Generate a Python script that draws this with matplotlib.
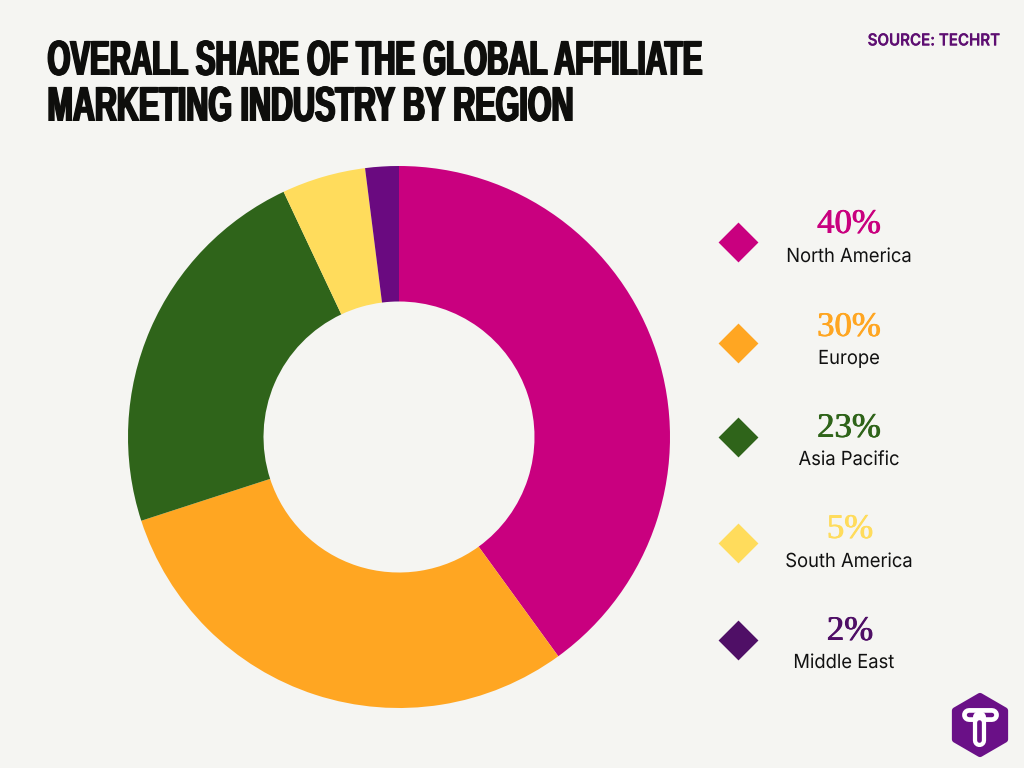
import matplotlib
matplotlib.use("Agg")
import matplotlib.pyplot as plt
from matplotlib.patches import Polygon
from matplotlib.patheffects import AbstractPathEffect
from matplotlib.transforms import Affine2D

regions = ["North America", "Europe", "Asia Pacific", "South America", "Middle East"]
shares = [40, 30, 23, 5, 2]
colors = ["#C9007F", "#FFA622", "#2F641A", "#FFDC5C", "#6A0A80"]
legend_colors = ["#C9007F", "#FFA622", "#2F641A", "#FFDC5C", "#4F0F66"]
title_lines = ["OVERALL SHARE OF THE GLOBAL AFFILIATE", "MARKETING INDUSTRY BY REGION"]

# layout, in picture pixels
title_base = [75, 121]
title_sx = [1.0, 1.035]
diamond_y = [242, 343, 437, 543, 640]
pct_base = [233, 336, 437, 538, 640]
label_y = [257, 359, 460, 562, 663]
label_x = [849, 849, 849, 849, 844]
pct_x = [849, 849, 849, 850, 850]

BG = "#F5F5F2"
W, H = 1024, 768


class Warp(AbstractPathEffect):
    """Scales drawn text about an anchor point, with optional sideways smears for heavier stems."""
    def __init__(self, x0, y0, sx=1, sy=1, smear=(0,)):
        super().__init__()
        self.x0, self.y0, self.sx, self.sy, self.smear = x0, y0, sx, sy, smear

    def draw_path(self, renderer, gc, tpath, affine, rgbFace=None):
        for dx in self.smear:
            t = affine + (Affine2D().translate(-self.x0, -self.y0)
                          .scale(self.sx, self.sy)
                          .translate(self.x0 + dx, self.y0))
            renderer.draw_path(gc, tpath, t, rgbFace)


fig = plt.figure(figsize=(W / 100, H / 100), dpi=100, facecolor=BG)

# donut
cx, cy, r = 399, 437, 271
ax = fig.add_axes([(cx - r) / W, 1 - (cy + r) / H, 2 * r / W, 2 * r / H])
ax.pie(shares, colors=colors, startangle=90, counterclock=False, radius=1,
       wedgeprops=dict(width=0.5, linewidth=0))
ax.set_xlim(-1, 1)
ax.set_ylim(-1, 1)
ax.axis("off")

# overlay in pixel coordinates
ov = fig.add_axes([0, 0, 1, 1], facecolor="none")
ov.set_xlim(0, W)
ov.set_ylim(H, 0)
ov.axis("off")

for line, base, sx in zip(title_lines, title_base, title_sx):
    t = ov.text(47.5, base, line, family="Liberation Sans", weight="bold", fontsize=21.2,
                color="#0E0E0C", va="baseline", ha="left")
    t.set_path_effects([Warp(47.5, H - base, sx=sx, sy=1.68, smear=(-1.2, -0.6, 0, 0.6, 1.2))])

src = ov.text(1000, 41, "SOURCE: TECHRT", family="Inter", weight="semibold", fontsize=12,
              color="#5E0F72", va="center", ha="right")
src.set_path_effects([Warp(1000, H - 41, sx=0.905, smear=(-0.2, 0.2))])

for i, (name, val, col) in enumerate(zip(regions, shares, legend_colors)):
    ov.scatter([738], [diamond_y[i]], marker="D", s=412, color=col, linewidths=0)
    p = ov.text(pct_x[i], pct_base[i], f"{val}%", family="Liberation Serif", fontsize=25,
                color=col, va="baseline", ha="center")
    p.set_path_effects([Warp(pct_x[i], H - pct_base[i], smear=(-0.5, 0, 0.5))])
    lab = ov.text(label_x[i], label_y[i], name, family="Inter", fontsize=14,
                  color="#111111", va="center", ha="center")
    lab.set_path_effects([Warp(label_x[i], H - label_y[i], sx=0.945)])

# logo
purple = "#6A1087"
ov.add_patch(Polygon([(980, 696), (1005, 710.5), (1005, 739.5), (980, 754), (955, 739.5), (955, 710.5)],
                     closed=True, fc=purple, ec=purple, lw=4.5, joinstyle="round"))
ov.plot([968.5, 991.5], [715, 715], color="white", lw=10, solid_capstyle="round")
ov.plot([968.5, 991.5], [715, 715], color=purple, lw=3.2, solid_capstyle="round")
ov.plot([978.5, 978.5], [717, 740], color="white", lw=9.5, solid_capstyle="round")
ov.plot([978.5, 978.5], [722, 740], color=purple, lw=3.4, solid_capstyle="round")

fig.savefig("out.png", dpi=100, facecolor=BG)
